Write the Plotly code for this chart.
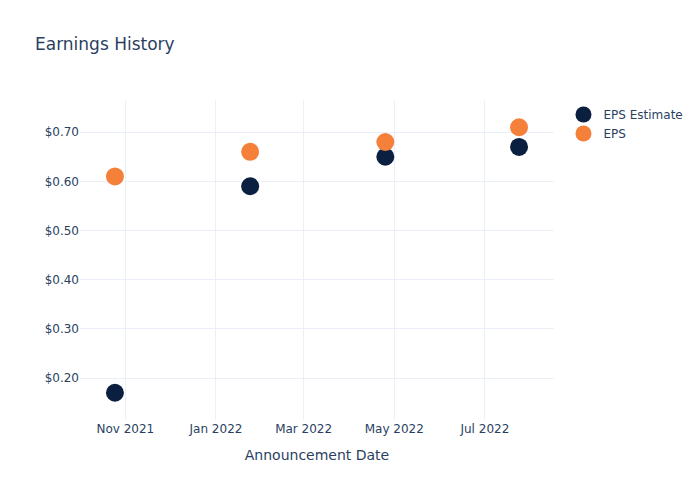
import plotly.graph_objects as go

dates = ["2021-10-25", "2022-01-24", "2022-04-25", "2022-07-24"]
eps_estimate = [0.17, 0.59, 0.65, 0.67]
eps_actual = [0.61, 0.66, 0.68, 0.71]

fig = go.Figure()
fig.add_trace(go.Scatter(
    x=dates, y=eps_estimate, mode="markers", name="EPS Estimate",
    marker=dict(color="#0b1f40", size=18),
))
fig.add_trace(go.Scatter(
    x=dates, y=eps_actual, mode="markers", name="EPS",
    marker=dict(color="#f5803a", size=18),
))

fig.update_layout(
    template="plotly_white",
    width=692, height=492,
    font=dict(family="DejaVu Sans"),
    title=dict(text="Earnings History", x=0.039, y=0.927, yanchor="middle"),
    margin=dict(l=72, r=80, t=92, b=80),
    xaxis=dict(title="Announcement Date", dtick="M2", tickformat="%b %Y"),
    yaxis=dict(tickprefix="$", tickformat=".2f"),
)

fig.write_html("out.html")
